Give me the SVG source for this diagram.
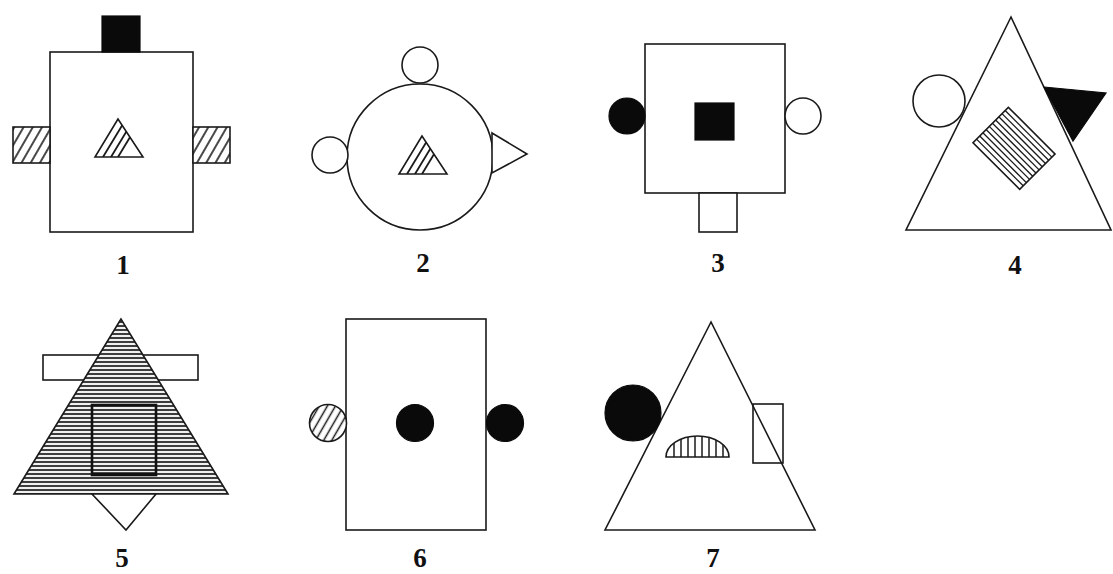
<svg xmlns="http://www.w3.org/2000/svg" width="1113" height="574" viewBox="0 0 1113 574">
<style>
.o{fill:#fff;stroke:#1a1a1a;stroke-width:1.6}
.n{fill:none;stroke:#1a1a1a;stroke-width:1.6}
.b{fill:#0a0a0a;stroke:#0a0a0a;stroke-width:1.2}
.h{stroke:#1a1a1a;stroke-width:1.8;fill:none}
.lbl{font-family:"Liberation Serif",serif;font-weight:bold;font-size:27px;fill:#111;text-anchor:middle}
</style>
<defs>
<pattern id="diag" patternUnits="userSpaceOnUse" width="8" height="8" patternTransform="rotate(30)">
<rect width="8" height="8" fill="#fff"/>
<line x1="4" y1="0" x2="4" y2="8" stroke="#1a1a1a" stroke-width="1.6"/>
</pattern>
<pattern id="diag6" patternUnits="userSpaceOnUse" width="7" height="7" patternTransform="rotate(30)">
<rect width="7" height="7" fill="#fff"/>
<line x1="3.5" y1="0" x2="3.5" y2="7" stroke="#1a1a1a" stroke-width="1.5"/>
</pattern>
<pattern id="horiz" patternUnits="userSpaceOnUse" width="10" height="4">
<rect width="10" height="4" fill="#f0f0f0"/>
<line x1="0" y1="2" x2="10" y2="2" stroke="#333" stroke-width="1.9"/>
</pattern>
<clipPath id="t1"><polygon points="118,119 95,157 143,157"/></clipPath>
<clipPath id="t2"><polygon points="422,136 399,174 447,174"/></clipPath>
<clipPath id="r4"><rect x="-33" y="-25" width="66" height="50"/></clipPath>
<clipPath id="d7"><path d="M666,457 A31.5,21 0 0 1 729,457 Z"/></clipPath>
</defs>

<g id="fig1">
<rect class="o" x="50" y="52" width="143" height="180"/>
<rect class="b" x="102" y="16" width="38" height="36"/>
<rect x="13" y="127" width="37" height="36" fill="url(#diag)" stroke="#1a1a1a" stroke-width="1.6"/>
<rect x="193" y="127" width="37" height="36" fill="url(#diag)" stroke="#1a1a1a" stroke-width="1.6"/>
<g clip-path="url(#t1)">
<line class="h" x1="103" y1="157" x2="126" y2="119"/>
<line class="h" x1="111" y1="157" x2="134" y2="119"/>
<line class="h" x1="118" y1="157" x2="141" y2="119"/>
</g>
<polygon class="n" points="118,119 95,157 143,157"/>
<text class="lbl" x="123" y="274">1</text>
</g>

<g id="fig2">
<circle class="o" cx="420" cy="157" r="73"/>
<circle class="o" cx="420" cy="65" r="18"/>
<circle class="o" cx="330" cy="155" r="18"/>
<polygon class="o" points="492,133 527,154 492,173"/>
<g clip-path="url(#t2)">
<line class="h" x1="407" y1="174" x2="430" y2="136"/>
<line class="h" x1="415" y1="174" x2="438" y2="136"/>
<line class="h" x1="422" y1="174" x2="445" y2="136"/>
</g>
<polygon class="n" points="422,136 399,174 447,174"/>
<text class="lbl" x="423" y="272">2</text>
</g>

<g id="fig3">
<rect class="o" x="645" y="44" width="140" height="149"/>
<circle class="b" cx="627" cy="116" r="18"/>
<circle class="o" cx="803" cy="116" r="18"/>
<rect class="b" x="695" y="103" width="39" height="37"/>
<rect class="o" x="699" y="193" width="38" height="39"/>
<text class="lbl" x="718" y="272">3</text>
</g>

<g id="fig4">
<polygon class="o" points="1011,17 906,230 1111,230"/>
<circle class="o" cx="939" cy="101" r="26"/>
<polygon class="b" points="1044,87 1106,93 1073,141"/>
<g transform="translate(1014,148.3) rotate(45)">
<rect class="o" x="-33" y="-25" width="66" height="50"/>
<g clip-path="url(#r4)" stroke="#1a1a1a" stroke-width="1.3">
<line x1="-33" y1="-20.5" x2="33" y2="-20.5"/>
<line x1="-33" y1="-16" x2="33" y2="-16"/>
<line x1="-33" y1="-11.5" x2="33" y2="-11.5"/>
<line x1="-33" y1="-7" x2="33" y2="-7"/>
<line x1="-33" y1="-2.5" x2="33" y2="-2.5"/>
<line x1="-33" y1="2" x2="33" y2="2"/>
<line x1="-33" y1="6.5" x2="33" y2="6.5"/>
<line x1="-33" y1="11" x2="33" y2="11"/>
<line x1="-33" y1="15.5" x2="33" y2="15.5"/>
<line x1="-33" y1="20" x2="33" y2="20"/>
</g>
</g>
<text class="lbl" x="1015" y="274">4</text>
</g>

<g id="fig5">
<rect class="o" x="43" y="355" width="155" height="25"/>
<polygon points="121,319 14,494 228,494" fill="url(#horiz)" stroke="#1a1a1a" stroke-width="1.6"/>
<rect x="92" y="405" width="64" height="70" fill="url(#horiz)" stroke="#111" stroke-width="2.6"/>
<line x1="91" y1="474" x2="157" y2="474" stroke="#111" stroke-width="3.5"/>
<polygon class="o" points="92,494 156,494 126,530"/>
<text class="lbl" x="122" y="567">5</text>
</g>

<g id="fig6">
<rect class="o" x="346" y="319" width="140" height="211"/>
<circle cx="328" cy="423" r="18.5" fill="url(#diag6)" stroke="#1a1a1a" stroke-width="1.6"/>
<circle class="b" cx="415" cy="423" r="18.5"/>
<circle class="b" cx="505" cy="423" r="18.5"/>
<text class="lbl" x="420" y="567">6</text>
</g>

<g id="fig7">
<polygon class="o" points="711,322 605,530 815,530"/>
<circle class="b" cx="633" cy="413" r="28"/>
<rect class="n" x="753" y="404" width="30" height="59"/>
<g clip-path="url(#d7)" stroke="#1a1a1a" stroke-width="1.5">
<line x1="674" y1="436" x2="674" y2="457"/>
<line x1="681" y1="436" x2="681" y2="457"/>
<line x1="688" y1="436" x2="688" y2="457"/>
<line x1="695" y1="436" x2="695" y2="457"/>
<line x1="702" y1="436" x2="702" y2="457"/>
<line x1="709" y1="436" x2="709" y2="457"/>
<line x1="716" y1="436" x2="716" y2="457"/>
<line x1="723" y1="436" x2="723" y2="457"/>
</g>
<path class="n" d="M666,457 A31.5,21 0 0 1 729,457 Z"/>
<text class="lbl" x="713" y="567">7</text>
</g>
</svg>
